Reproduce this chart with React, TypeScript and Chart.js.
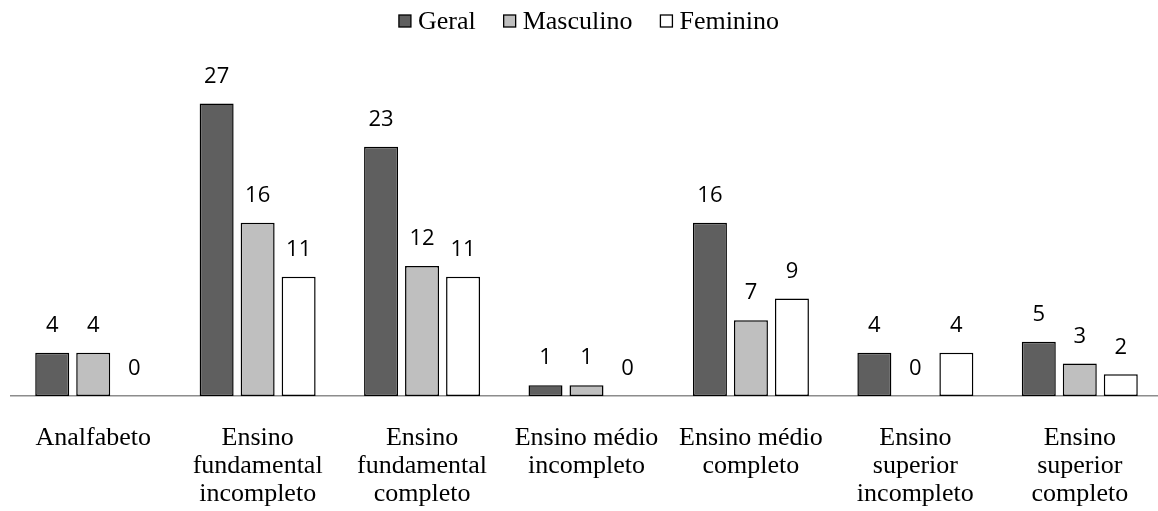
import { useEffect, useRef } from 'react';
import { Chart, registerables } from 'chart.js';

Chart.register(...registerables);

const categories: string[][] = [
  ['Analfabeto'],
  ['Ensino', 'fundamental', 'incompleto'],
  ['Ensino', 'fundamental', 'completo'],
  ['Ensino médio', 'incompleto'],
  ['Ensino médio', 'completo'],
  ['Ensino', 'superior', 'incompleto'],
  ['Ensino', 'superior', 'completo'],
];
const seriesNames = ['Geral', 'Masculino', 'Feminino'];
const geral = [4, 27, 23, 1, 16, 4, 5];
const masculino = [4, 16, 12, 1, 7, 0, 3];
const feminino = [0, 11, 11, 0, 9, 4, 2];
const seriesColors = ['#5f5f5f', '#bfbfbf', '#ffffff'];

const SERIF = '"Liberation Serif", "Times New Roman", serif';
const SANS = '"Open Sans", "Liberation Sans", sans-serif';

const valueLabels = {
  id: 'valueLabels',
  afterDatasetsDraw(chart: any) {
    const ctx = chart.ctx;
    ctx.save();
    ctx.font = `22px ${SANS}`;
    ctx.fillStyle = '#000';
    ctx.textAlign = 'center';
    ctx.textBaseline = 'middle';
    chart.data.datasets.forEach((ds: any, i: number) => {
      const meta = chart.getDatasetMeta(i);
      meta.data.forEach((bar: any, j: number) => {
        ctx.fillText(String(ds.data[j]), bar.x, bar.y - 27);
      });
    });
    ctx.restore();
  },
};

const customLegend = {
  id: 'customLegend',
  afterDraw(chart: any) {
    const ctx = chart.ctx;
    ctx.save();
    ctx.font = `26px ${SERIF}`;
    ctx.textBaseline = 'middle';
    ctx.textAlign = 'left';
    const box = 12;
    const boxGap = 7;
    const itemGap = 28;
    const items = chart.data.datasets.map((ds: any) => ({
      label: ds.label,
      color: ds.backgroundColor,
      w: box + boxGap + ctx.measureText(ds.label).width,
    }));
    const total = items.reduce((s: number, it: any) => s + it.w, 0) + itemGap * (items.length - 1);
    let x = 589 - total / 2;
    const cy = 21;
    items.forEach((it: any) => {
      ctx.fillStyle = it.color;
      ctx.fillRect(x, cy - box / 2, box, box);
      ctx.strokeStyle = '#000';
      ctx.lineWidth = 1.3;
      ctx.strokeRect(x, cy - box / 2, box, box);
      ctx.fillStyle = '#000';
      ctx.fillText(it.label, x + box + boxGap, cy + 1);
      x += it.w + itemGap;
    });
    ctx.restore();
  },
};

export default function App() {
  const ref = useRef<HTMLCanvasElement>(null);
  useEffect(() => {
    document.body.style.margin = '0';
    document.body.style.overflow = 'hidden';
    const values = [geral, masculino, feminino];
    const chart = new Chart(ref.current as HTMLCanvasElement, {
      type: 'bar',
      data: {
        labels: categories as any,
        datasets: seriesNames.map((name, i) => ({
          label: name,
          data: values[i],
          backgroundColor: seriesColors[i],
          borderColor: '#000',
          borderWidth: (c: any) => (c.raw === 0 ? 0 : 1.5),
          borderSkipped: false,
          barPercentage: 0.829,
          categoryPercentage: 0.748,
        })),
      },
      options: {
        responsive: false,
        animation: false,
        devicePixelRatio: 1,
        layout: { padding: { left: 11, right: 4, top: 71, bottom: 3 } },
        plugins: {
          legend: { display: false },
          tooltip: { enabled: false },
        },
        scales: {
          x: {
            grid: { display: false, drawTicks: false },
            border: { display: true, color: '#8c8c8c', width: 1.5 },
            ticks: {
              color: '#000',
              padding: 28,
              maxRotation: 0,
              autoSkip: false,
              font: { family: SERIF, size: 26, lineHeight: 28 / 26 },
            },
            afterFit: (scale: any) => {
              scale.height = 112;
            },
          },
          y: {
            display: false,
            min: 0,
            max: 30,
          },
        },
      },
      plugins: [valueLabels, customLegend],
    });
    return () => chart.destroy();
  }, []);
  return (
    <div style={{ width: 1166, height: 511 }}>
      <canvas ref={ref} width={1166} height={511} />
    </div>
  );
}
